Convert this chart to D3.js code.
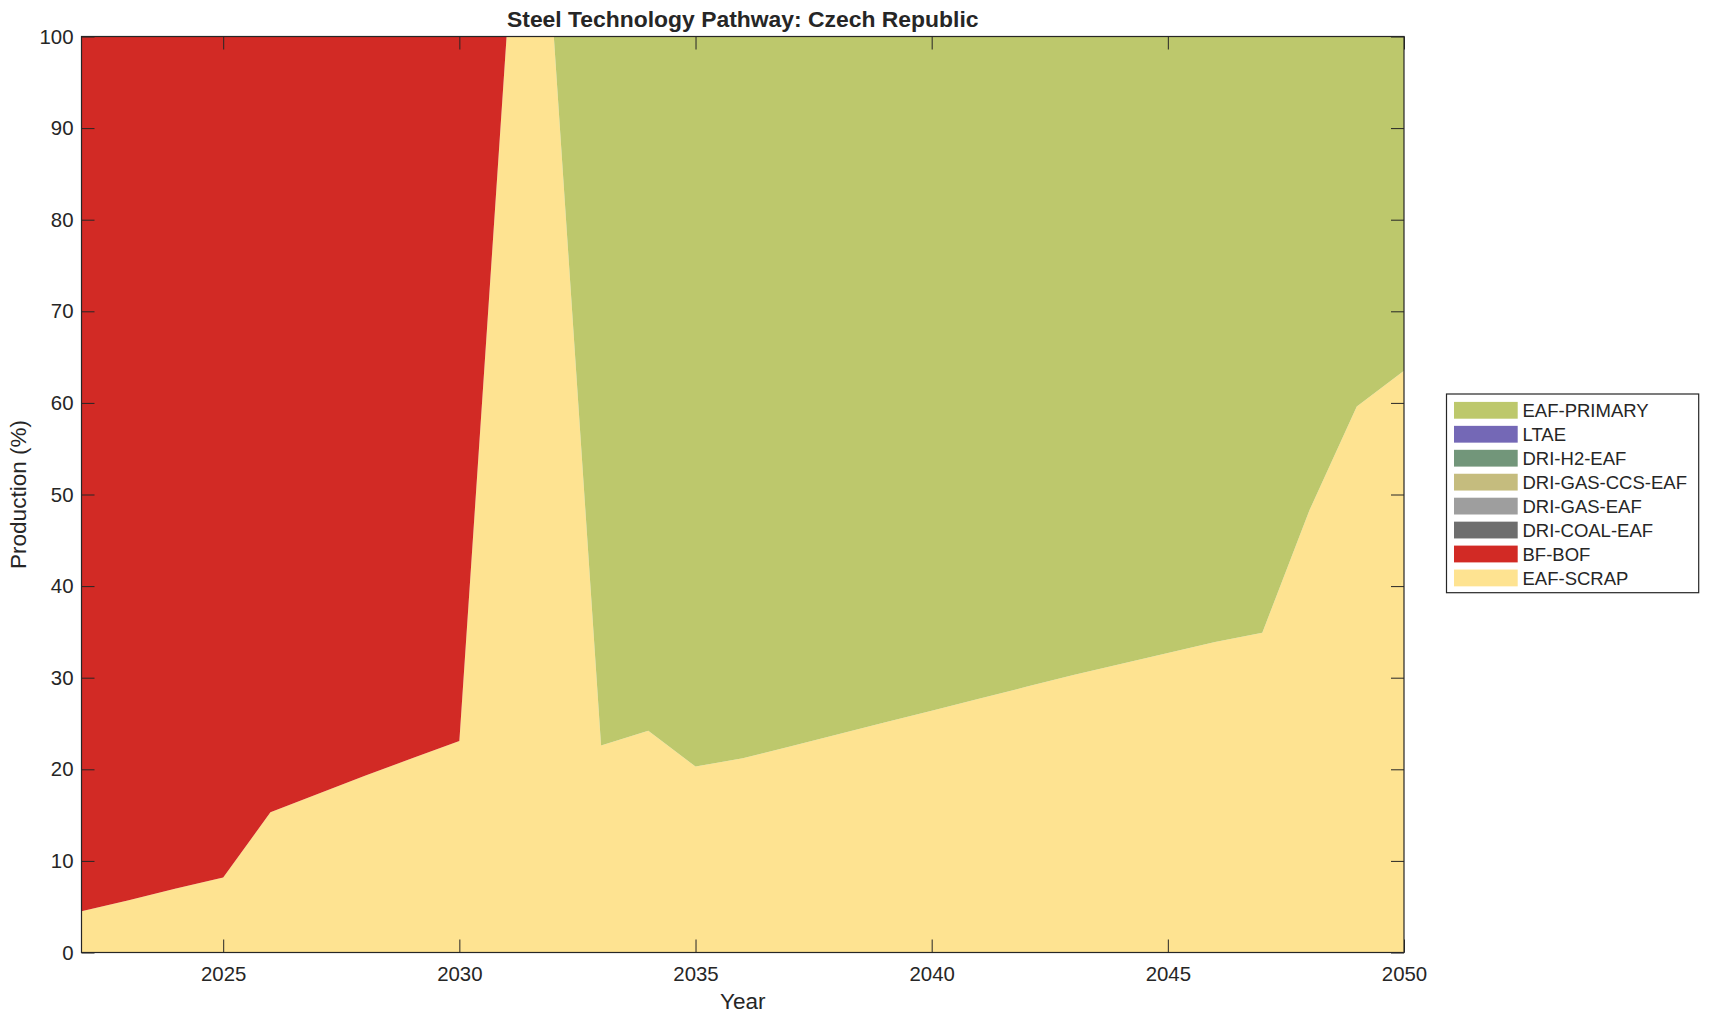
<!DOCTYPE html>
<html>
<head>
<meta charset="utf-8">
<script src="https://cdn.jsdelivr.net/npm/d3@7"></script>
<style>
  html, body { margin: 0; padding: 0; background: #ffffff; }
  svg { display: block; }
  text { font-family: "Liberation Sans", Arial, Helvetica, sans-serif; fill: #262626; }
</style>
</head>
<body>
<svg id="chart" width="1709" height="1021"></svg>
<script>
// ---- Data ----
const years = [2022,2023,2024,2025,2026,2027,2028,2029,2030,2031,2032,2033,2034,2035,2036,2037,2038,2039,2040,2041,2042,2043,2044,2045,2046,2047,2048,2049,2050];

const eafScrap   = [4.5,5.7,7.0,8.2,15.3,17.3,19.3,21.2,23.1,100,100,22.6,24.2,20.3,21.2,22.5,23.8,25.1,26.4,27.7,29.0,30.3,31.5,32.7,33.9,34.9,48.3,59.6,63.5];
const bfBof      = [95.5,94.3,93.0,91.8,84.7,82.7,80.7,78.8,76.9,0,0,0,0,0,0,0,0,0,0,0,0,0,0,0,0,0,0,0,0];
const driCoalEaf = [0,0,0,0,0,0,0,0,0,0,0,0,0,0,0,0,0,0,0,0,0,0,0,0,0,0,0,0,0];
const driGasEaf  = [0,0,0,0,0,0,0,0,0,0,0,0,0,0,0,0,0,0,0,0,0,0,0,0,0,0,0,0,0];
const driGasCcsEaf = [0,0,0,0,0,0,0,0,0,0,0,0,0,0,0,0,0,0,0,0,0,0,0,0,0,0,0,0,0];
const driH2Eaf   = [0,0,0,0,0,0,0,0,0,0,0,0,0,0,0,0,0,0,0,0,0,0,0,0,0,0,0,0,0];
const ltae       = [0,0,0,0,0,0,0,0,0,0,0,0,0,0,0,0,0,0,0,0,0,0,0,0,0,0,0,0,0];
const eafPrimary = [0,0,0,0,0,0,0,0,0,0,0,77.4,75.8,79.7,78.8,77.5,76.2,74.9,73.6,72.3,71.0,69.7,68.5,67.3,66.1,65.1,51.7,40.4,36.5];

// stacking order, bottom to top
const techNames = ["EAF-SCRAP","BF-BOF","DRI-COAL-EAF","DRI-GAS-EAF","DRI-GAS-CCS-EAF","DRI-H2-EAF","LTAE","EAF-PRIMARY"];
const techColors = ["#fee391","#d22a25","#6e6e6e","#9e9e9e","#c5bc7e","#72967a","#7468b6","#bdc86c"];
const seriesValues = [eafScrap,bfBof,driCoalEaf,driGasEaf,driGasCcsEaf,driH2Eaf,ltae,eafPrimary];

const xTicks = [2025,2030,2035,2040,2045,2050];
const yTicks = [0,10,20,30,40,50,60,70,80,90,100];

const titleText = "Steel Technology Pathway: Czech Republic";
const xLabel = "Year";
const yLabel = "Production (%)";

// ---- Layout ----
const svg = d3.select("#chart");
const plot = { left: 81.5, right: 1404, top: 36.5, bottom: 952.5 };
const axisColor = "#262626";
const tickFont = 20.4, labelFont = 22.5, legendFont = 18.5;
const tickLen = 13;

const x = d3.scaleLinear().domain([2022, 2050]).range([plot.left, plot.right]);
const y = d3.scaleLinear().domain([0, 100]).range([plot.bottom, plot.top]);

const table = years.map((yr, i) => {
  const row = { year: yr };
  techNames.forEach((n, k) => { row[n] = seriesValues[k][i]; });
  return row;
});

const stack = d3.stack().keys(techNames);
const layers = stack(table);

const area = d3.area()
  .x(d => x(d.data.year))
  .y0(d => y(d[0]))
  .y1(d => y(d[1]));

svg.append("g").selectAll("path")
  .data(layers)
  .join("path")
  .attr("d", area)
  .attr("fill", (d, i) => techColors[i])
  .attr("stroke", "none");

// ---- Axes (MATLAB style: inward ticks, box) ----
const gx = svg.append("g").attr("transform", `translate(0,${plot.bottom})`)
  .call(d3.axisBottom(x).tickValues(xTicks).tickFormat(d3.format("d")).tickSizeInner(-tickLen).tickSizeOuter(0).tickPadding(14));
const gxTop = svg.append("g").attr("transform", `translate(0,${plot.top})`)
  .call(d3.axisTop(x).tickValues(xTicks).tickFormat("").tickSizeInner(-tickLen).tickSizeOuter(0));
const gy = svg.append("g").attr("transform", `translate(${plot.left},0)`)
  .call(d3.axisLeft(y).tickValues(yTicks).tickFormat(d3.format("d")).tickSizeInner(-tickLen).tickSizeOuter(0).tickPadding(8));
const gyRight = svg.append("g").attr("transform", `translate(${plot.right},0)`)
  .call(d3.axisRight(y).tickValues(yTicks).tickFormat("").tickSizeInner(-tickLen).tickSizeOuter(0));

[gx, gxTop, gy, gyRight].forEach(g => {
  g.select(".domain").remove();
  g.selectAll(".tick line").attr("stroke", axisColor).attr("stroke-width", 1);
  g.selectAll(".tick text").attr("fill", axisColor).style("font-size", tickFont + "px")
    .style("font-family", '"Liberation Sans", Arial, sans-serif');
});

svg.append("rect")
  .attr("x", plot.left).attr("y", plot.top)
  .attr("width", plot.right - plot.left).attr("height", plot.bottom - plot.top)
  .attr("fill", "none").attr("stroke", axisColor).attr("stroke-width", 1.2);

// ---- Titles ----
svg.append("text")
  .attr("x", (plot.left + plot.right) / 2).attr("y", 26.5)
  .attr("text-anchor", "middle")
  .style("font-size", "22.9px").style("font-weight", "bold").attr("fill", "#000")
  .text(titleText);

svg.append("text")
  .attr("x", (plot.left + plot.right) / 2).attr("y", 1009)
  .attr("text-anchor", "middle")
  .style("font-size", labelFont + "px")
  .text(xLabel);

svg.append("text")
  .attr("transform", `translate(26,${(plot.top + plot.bottom) / 2}) rotate(-90)`)
  .attr("text-anchor", "middle")
  .style("font-size", labelFont + "px")
  .text(yLabel);

// ---- Legend ----
const legend = { x: 1446.5, y: 394, w: 252.2, h: 198.7 };
const lg = svg.append("g");
lg.append("rect")
  .attr("x", legend.x).attr("y", legend.y).attr("width", legend.w).attr("height", legend.h)
  .attr("fill", "#fff").attr("stroke", axisColor).attr("stroke-width", 1.2);

const legendOrder = techNames.slice().reverse();
const rowStep = 23.95, firstRow = 410.3;
legendOrder.forEach((name, i) => {
  const k = techNames.indexOf(name);
  const cy = firstRow + i * rowStep;
  lg.append("rect")
    .attr("x", 1454).attr("y", cy - 8.4).attr("width", 63.7).attr("height", 16.8)
    .attr("fill", techColors[k]);
  lg.append("text")
    .attr("x", 1522.5).attr("y", cy).attr("dy", "0.36em")
    .style("font-size", legendFont + "px").attr("fill", "#000")
    .text(name);
});
</script>
</body>
</html>
